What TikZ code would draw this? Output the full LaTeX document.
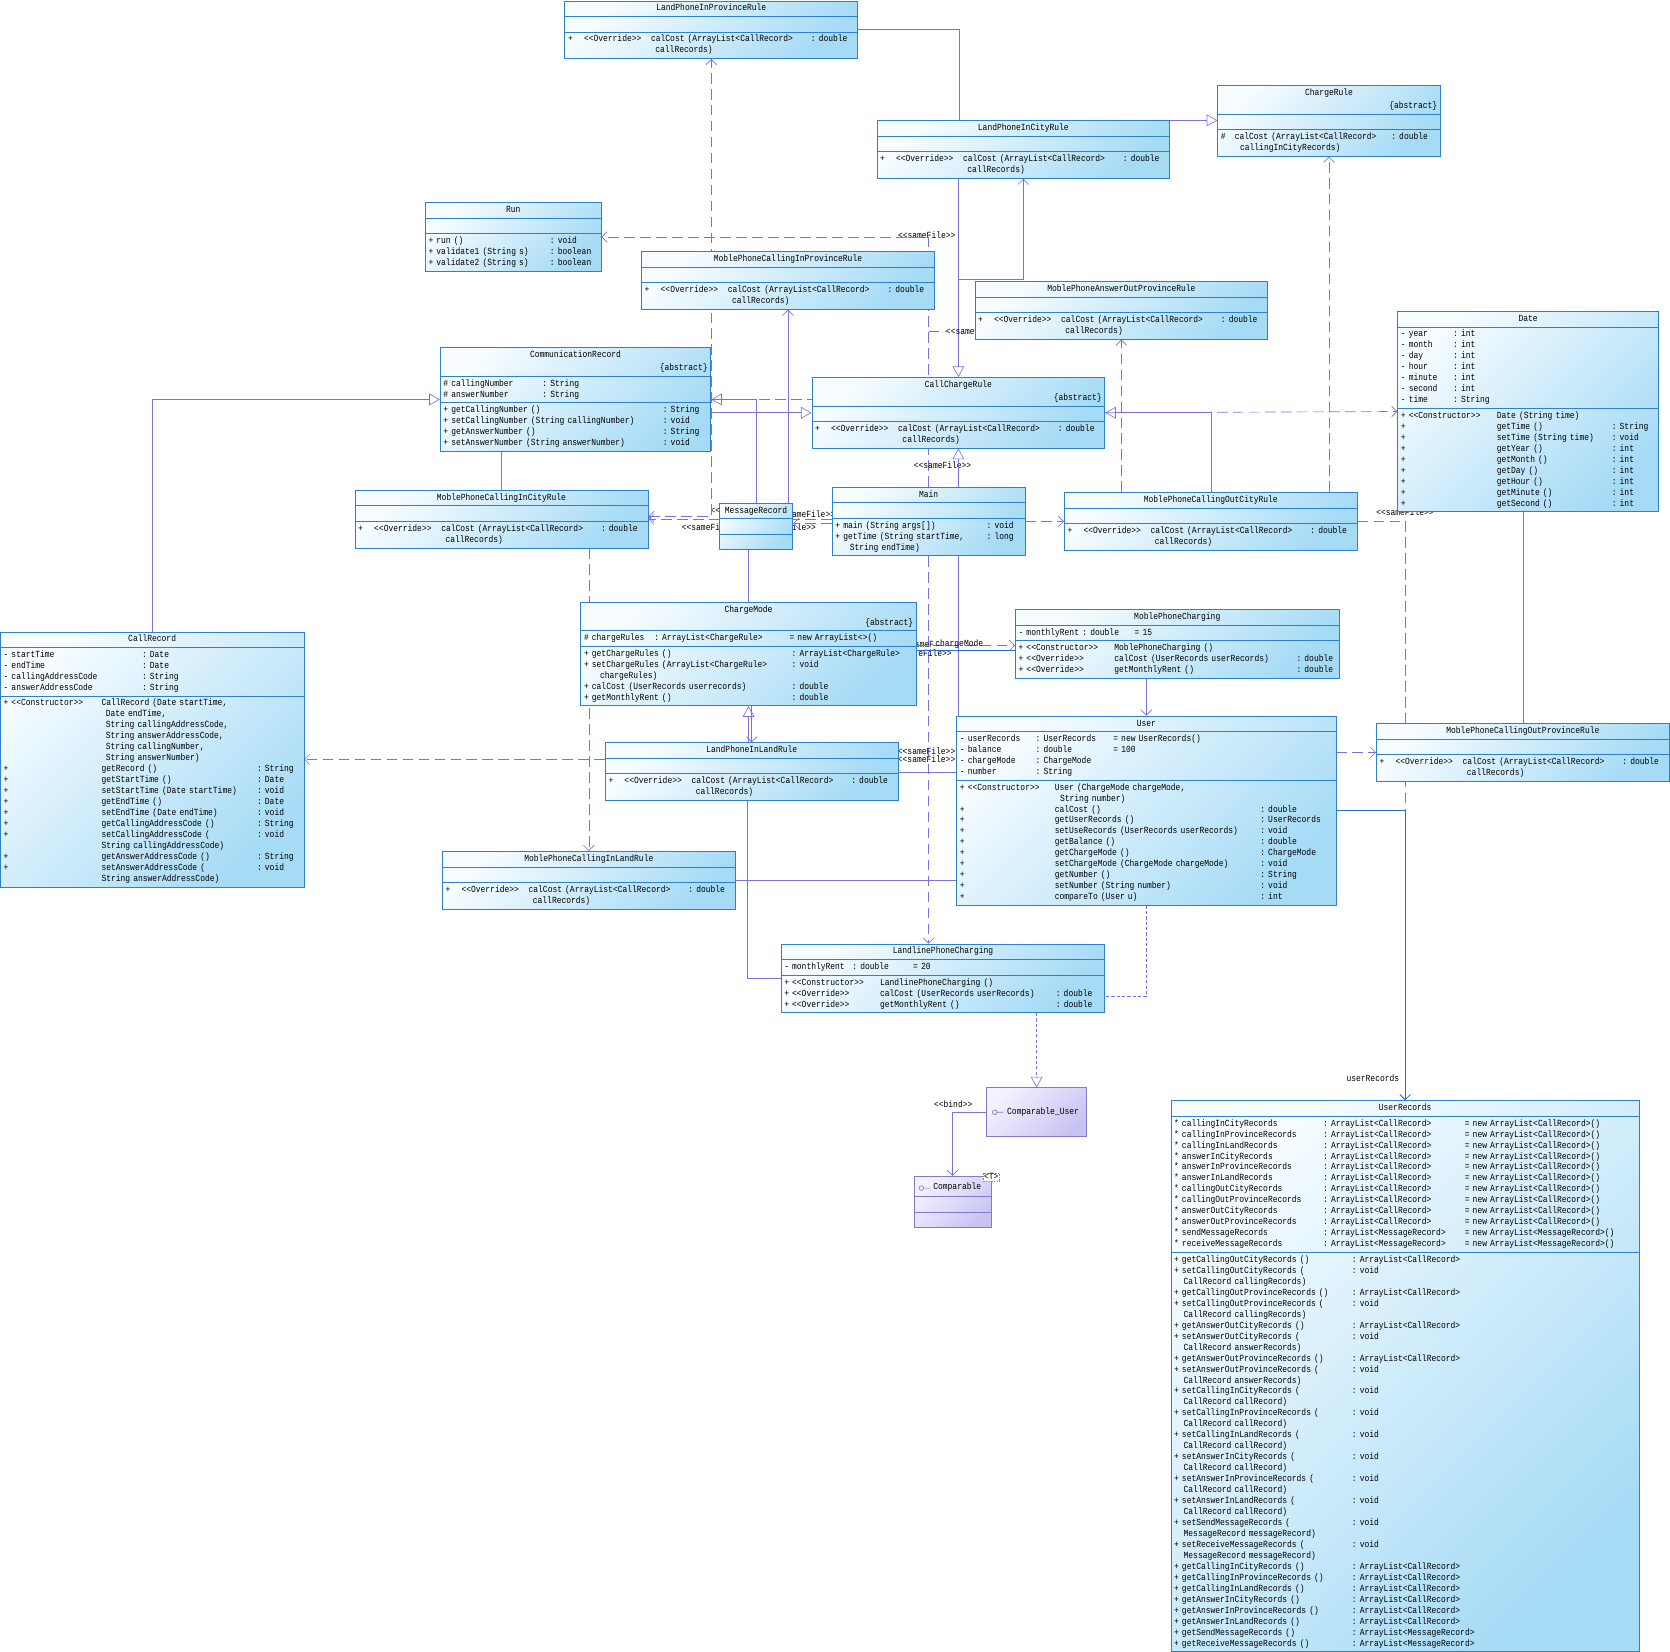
\documentclass[tikz,border=0pt]{standalone}
\usepackage{fontspec}
\setmonofont{Liberation Mono}[FakeStretch=0.85]
\usetikzlibrary{arrows.meta,calc,positioning,shapes.multipart}
\pgfdeclarelayer{links}
\pgfsetlayers{links,main}
\definecolor{clsline}{HTML}{2F7FD0}
\definecolor{clstop}{HTML}{F6FCFF}
\definecolor{clsbot}{HTML}{A6DBF6}
\definecolor{ifcline}{HTML}{7E7ACC}
\definecolor{ifctop}{HTML}{F4F2FF}
\definecolor{ifcbot}{HTML}{C9C3F2}
\definecolor{relline}{HTML}{7A70E0}
\definecolor{assocline}{HTML}{2A6FD0}
\frenchspacing

\newcommand{\umlsize}{\fontsize{8.8}{10.3}\selectfont}
\newcommand{\cl}[2]{\makebox[#1pt][l]{#2}}
\newcommand{\comp}[1]{\strut#1\strut}
\newcommand{\cname}[1]{\makebox[\linewidth]{#1}}
\newcommand{\abst}{\\[2pt]\hspace*{\fill}\{abstract\}}
\newcommand{\calcost}{\cl{15}{+}\cl{63}{<<Override>>}\cl{150}{calCost (ArrayList<CallRecord>}:~double\\\hspace*{82pt}callRecords)}
\newcommand{\rulebody}{\nodepart{two}\comp{}\nodepart{three}\comp{\calcost}}
% row helpers
\newcommand{\dop}[2]{\cl{90}{+}\cl{108}{#1}:~#2}
\newcommand{\crop}[2]{\cl{92}{+}\cl{146}{#1}:~#2}
\newcommand{\uop}[2]{\cl{89}{+}\cl{193}{#1}:~#2}
\newcommand{\urf}[3]{\cl{140}{* #1}\cl{133}{:~#2}=~#3}
\newcommand{\uro}[2]{\cl{167}{+ #1}:~#2}
\newcommand{\urc}[1]{\hspace*{9pt}#1}

\begin{document}
\begin{tikzpicture}[x=1pt, y=-1pt,
    umlclass/.style={rectangle split, rectangle split parts=3, draw=clsline,
        line width=0.7pt, top color=clstop, bottom color=clsbot, shading angle=45,
        inner xsep=3pt, inner ysep=1.8pt, anchor=north west, align=left,
        font=\umlsize\ttfamily},
    rulecls/.style={umlclass, text width=269pt},
    ifc/.style={draw=ifcline, line width=0.7pt, top color=ifctop, bottom color=ifcbot,
        shading angle=45, font=\umlsize\ttfamily},
    rel/.style={draw=relline, line width=0.6pt},
    inherit/.style={rel, -{Triangle[open, length=10pt, width=11pt]}},
    navig/.style={rel, -{Straight Barb[length=5pt, width=10pt]}},
    depend/.style={navig, dash pattern=on 10pt off 5pt},
    bidep/.style={rel, dash pattern=on 10pt off 5pt,
        {Straight Barb[length=5pt, width=10pt]}-{Straight Barb[length=5pt, width=10pt]}},
    finedash/.style={rel, dash pattern=on 3pt off 2pt},
    lbl/.style={font=\umlsize\ttfamily, inner sep=0pt, text=black}
]
\useasboundingbox (0,0) rectangle (1568,1551);

% ---- rule classes
\node[rulecls] (lpipr) at (530,0.5) {\comp{\cname{LandPhoneInProvinceRule}}\rulebody};
\node[rulecls] (lpicr) at (823,113) {\comp{\cname{LandPhoneInCityRule}}\rulebody};
\node[rulecls] (mpcipr) at (602,236) {\comp{\cname{MoblePhoneCallingInProvinceRule}}\rulebody};
\node[rulecls] (mpaopr) at (915,264) {\comp{\cname{MoblePhoneAnswerOutProvinceRule}}\rulebody};
\node[rulecls] (callCR) at (762,354) {\comp{\cname{CallChargeRule}\abst}\rulebody};
\node[rulecls] (mpcicr) at (333,460) {\comp{\cname{MoblePhoneCallingInCityRule}}\rulebody};
\node[rulecls] (mpcocr) at (999,462) {\comp{\cname{MoblePhoneCallingOutCityRule}}\rulebody};
\node[rulecls] (lpilr) at (568,697) {\comp{\cname{LandPhoneInLandRule}}\rulebody};
\node[rulecls] (mpcopr) at (1292,679) {\comp{\cname{MoblePhoneCallingOutProvinceRule}}\rulebody};
\node[rulecls] (mpcilr) at (415,799) {\comp{\cname{MoblePhoneCallingInLandRule}}\rulebody};

\node[umlclass, text width=203pt] (chargeRule) at (1143,80) {\comp{\cname{ChargeRule}\abst}
  \nodepart{two}\comp{}
  \nodepart{three}\comp{\cl{13}{\#}\cl{147}{calCost (ArrayList<CallRecord>}:~double\\\hspace*{18pt}callingInCityRecords)}};

\node[umlclass, text width=159pt] (run) at (399,190) {\comp{\cname{Run}}
  \nodepart{two}\comp{}
  \nodepart{three}\comp{\cl{114}{+ run ()}:~void\\\cl{114}{+ validate1 (String s)}:~boolean\\\cl{114}{+ validate2 (String s)}:~boolean}};

\node[umlclass, text width=239pt] (date) at (1312,292) {\comp{\cname{Date}}
  \nodepart{two}\comp{\cl{49}{- year}:~int\\\cl{49}{- month}:~int\\\cl{49}{- day}:~int\\\cl{49}{- hour}:~int\\\cl{49}{- minute}:~int\\\cl{49}{- second}:~int\\\cl{49}{- time}:~String}
  \nodepart{three}\comp{\cl{90}{+ <<Constructor>>}Date (String time)\\\dop{getTime ()}{String}\\\dop{setTime (String time)}{void}\\\dop{getYear ()}{int}\\\dop{getMonth ()}{int}\\\dop{getDay ()}{int}\\\dop{getHour ()}{int}\\\dop{getMinute ()}{int}\\\dop{getSecond ()}{int}}};

\node[umlclass, text width=248pt] (commRec) at (413,326) {\comp{\cname{CommunicationRecord}\abst}
  \nodepart{two}\comp{\cl{93}{\# callingNumber}:~String\\\cl{93}{\# answerNumber}:~String}
  \nodepart{three}\comp{\cl{206}{+ getCallingNumber ()}:~String\\\cl{206}{+ setCallingNumber (String callingNumber)}:~void\\\cl{206}{+ getAnswerNumber ()}:~String\\\cl{206}{+ setAnswerNumber (String answerNumber)}:~void}};

\node[umlclass, text width=63pt] (msgRec) at (675,472) {\comp{\cname{MessageRecord}}\nodepart{two}\comp{}\nodepart{three}\comp{}};

\node[umlclass, text width=175pt] (main) at (781,457) {\comp{\cname{Main}}
  \nodepart{two}\comp{}
  \nodepart{three}\comp{\cl{142}{+ main (String args[])}:~void\\\cl{142}{+ getTime (String startTime,}:~long\\\hspace*{13.5pt}String endTime)}};

\node[umlclass, text width=279pt] (callRec) at (0,593) {\comp{\cname{CallRecord}}
  \nodepart{two}\comp{\cl{130}{- startTime}:~Date\\\cl{130}{- endTime}:~Date\\\cl{130}{- callingAddressCode}:~String\\\cl{130}{- answerAddressCode}:~String}
  \nodepart{three}\comp{\cl{92}{+ <<Constructor>>}CallRecord (Date startTime,\\\hspace*{96pt}Date endTime,\\\hspace*{96pt}String callingAddressCode,\\\hspace*{96pt}String answerAddressCode,\\\hspace*{96pt}String callingNumber,\\\hspace*{96pt}String answerNumber)\\
  \crop{getRecord ()}{String}\\\crop{getStartTime ()}{Date}\\\crop{setStartTime (Date startTime)}{void}\\\crop{getEndTime ()}{Date}\\\crop{setEndTime (Date endTime)}{void}\\\crop{getCallingAddressCode ()}{String}\\\crop{setCallingAddressCode (}{void}\\\hspace*{92pt}String callingAddressCode)\\\crop{getAnswerAddressCode ()}{String}\\\crop{setAnswerAddressCode (}{void}\\\hspace*{92pt}String answerAddressCode)}};

\node[umlclass, text width=309pt] (chargeMode) at (545,565) {\comp{\cname{ChargeMode}\abst}
  \nodepart{two}\comp{\cl{66}{\# chargeRules}\cl{127}{:~ArrayList<ChargeRule>}=~new ArrayList<>()}
  \nodepart{three}\comp{\cl{195}{+ getChargeRules ()}:~ArrayList<ChargeRule>\\\cl{195}{+ setChargeRules (ArrayList<ChargeRule>}:~void\\\hspace*{15pt}chargeRules)\\\cl{195}{+ calCost (UserRecords userrecords)}:~double\\\cl{195}{+ getMonthlyRent ()}:~double}};

\node[umlclass, text width=298pt] (mpCharging) at (953,572) {\comp{\cname{MoblePhoneCharging}}
  \nodepart{two}\comp{\cl{60}{- monthlyRent}\cl{49}{:~double}=~15}
  \nodepart{three}\comp{\cl{90}{+ <<Constructor>>}MoblePhoneCharging ()\\\cl{90}{+ <<Override>>}\cl{171}{calCost (UserRecords userRecords)}:~double\\\cl{90}{+ <<Override>>}\cl{171}{getMonthlyRent ()}:~double}};

\node[umlclass, text width=298pt] (llCharging) at (733,886) {\comp{\cname{LandlinePhoneCharging}}
  \nodepart{two}\comp{\cl{64}{- monthlyRent}\cl{57}{:~double}=~20}
  \nodepart{three}\comp{\cl{90}{+ <<Constructor>>}LandlinePhoneCharging ()\\\cl{90}{+ <<Override>>}\cl{165}{calCost (UserRecords userRecords)}:~double\\\cl{90}{+ <<Override>>}\cl{165}{getMonthlyRent ()}:~double}};

\node[umlclass, text width=350pt] (user) at (898,672) {\comp{\cname{User}}
  \nodepart{two}\comp{\cl{71}{- userRecords}\cl{73}{:~UserRecords}=~new UserRecords()\\\cl{71}{- balance}\cl{73}{:~double}=~100\\\cl{71}{- chargeMode}:~ChargeMode\\\cl{71}{- number}:~String}
  \nodepart{three}\comp{\cl{89}{+ <<Constructor>>}User (ChargeMode chargeMode,\\\hspace*{94pt}String number)\\\uop{calCost ()}{double}\\\uop{getUserRecords ()}{UserRecords}\\\uop{setUseRecords (UserRecords userRecords)}{void}\\\uop{getBalance ()}{double}\\\uop{getChargeMode ()}{ChargeMode}\\\uop{setChargeMode (ChargeMode chargeMode)}{void}\\\uop{getNumber ()}{String}\\\uop{setNumber (String number)}{void}\\\uop{compareTo (User u)}{int}}};

\node[umlclass, text width=434pt] (userRecs) at (1099,1033) {\comp{\cname{UserRecords}}
  \nodepart{two}\comp{\urf{callingInCityRecords}{ArrayList<CallRecord>}{new ArrayList<CallRecord>()}\\
    \urf{callingInProvinceRecords}{ArrayList<CallRecord>}{new ArrayList<CallRecord>()}\\
    \urf{callingInLandRecords}{ArrayList<CallRecord>}{new ArrayList<CallRecord>()}\\
    \urf{answerInCityRecords}{ArrayList<CallRecord>}{new ArrayList<CallRecord>()}\\
    \urf{answerInProvinceRecords}{ArrayList<CallRecord>}{new ArrayList<CallRecord>()}\\
    \urf{answerInLandRecords}{ArrayList<CallRecord>}{new ArrayList<CallRecord>()}\\
    \urf{callingOutCityRecords}{ArrayList<CallRecord>}{new ArrayList<CallRecord>()}\\
    \urf{callingOutProvinceRecords}{ArrayList<CallRecord>}{new ArrayList<CallRecord>()}\\
    \urf{answerOutCityRecords}{ArrayList<CallRecord>}{new ArrayList<CallRecord>()}\\
    \urf{answerOutProvinceRecords}{ArrayList<CallRecord>}{new ArrayList<CallRecord>()}\\
    \urf{sendMessageRecords}{ArrayList<MessageRecord>}{new ArrayList<MessageRecord>()}\\
    \urf{receiveMessageRecords}{ArrayList<MessageRecord>}{new ArrayList<MessageRecord>()}}
  \nodepart{three}\comp{\uro{getCallingOutCityRecords ()}{ArrayList<CallRecord>}\\
    \uro{setCallingOutCityRecords (}{void}\\\urc{CallRecord callingRecords)}\\
    \uro{getCallingOutProvinceRecords ()}{ArrayList<CallRecord>}\\
    \uro{setCallingOutProvinceRecords (}{void}\\\urc{CallRecord callingRecords)}\\
    \uro{getAnswerOutCityRecords ()}{ArrayList<CallRecord>}\\
    \uro{setAnswerOutCityRecords (}{void}\\\urc{CallRecord answerRecords)}\\
    \uro{getAnswerOutProvinceRecords ()}{ArrayList<CallRecord>}\\
    \uro{setAnswerOutProvinceRecords (}{void}\\\urc{CallRecord answerRecords)}\\
    \uro{setCallingInCityRecords (}{void}\\\urc{CallRecord callRecord)}\\
    \uro{setCallingInProvinceRecords (}{void}\\\urc{CallRecord callRecord)}\\
    \uro{setCallingInLandRecords (}{void}\\\urc{CallRecord callRecord)}\\
    \uro{setAnswerInCityRecords (}{void}\\\urc{CallRecord callRecord)}\\
    \uro{setAnswerInProvinceRecords (}{void}\\\urc{CallRecord callRecord)}\\
    \uro{setAnswerInLandRecords (}{void}\\\urc{CallRecord callRecord)}\\
    \uro{setSendMessageRecords (}{void}\\\urc{MessageRecord messageRecord)}\\
    \uro{setReceiveMessageRecords (}{void}\\\urc{MessageRecord messageRecord)}\\
    \uro{getCallingInCityRecords ()}{ArrayList<CallRecord>}\\
    \uro{getCallingInProvinceRecords ()}{ArrayList<CallRecord>}\\
    \uro{getCallingInLandRecords ()}{ArrayList<CallRecord>}\\
    \uro{getAnswerInCityRecords ()}{ArrayList<CallRecord>}\\
    \uro{getAnswerInProvinceRecords ()}{ArrayList<CallRecord>}\\
    \uro{getAnswerInLandRecords ()}{ArrayList<CallRecord>}\\
    \uro{getSendMessageRecords ()}{ArrayList<MessageRecord>}\\
    \uro{getReceiveMessageRecords ()}{ArrayList<MessageRecord>}}};

% ---- interfaces
\node[ifc, anchor=north west, minimum width=94pt, minimum height=46pt, inner sep=0pt] (cmpUser) at (926,1021) {\hspace*{16pt}Comparable\_User\hspace*{4pt}};
\draw[ifcline, line width=0.6pt] ([xshift=8pt]cmpUser.west) circle[radius=2.2pt]
    ([xshift=10.2pt]cmpUser.west) -- ([xshift=16pt]cmpUser.west);
\node[ifc, rectangle split, rectangle split parts=3, anchor=north west, text width=66pt,
    inner xsep=3pt, inner ysep=1.8pt, align=left] (cmp) at (858,1104)
    {\rule[-4.5pt]{0pt}{15pt}\hspace*{15pt}Comparable\nodepart{two}\comp{}\nodepart{three}\comp{}};
\draw[ifcline, line width=0.6pt] ([xshift=7pt,yshift=-11.5pt]cmp.north west) circle[radius=2.2pt]
    ([xshift=9.2pt,yshift=-11.5pt]cmp.north west) -- ([xshift=15pt,yshift=-11.5pt]cmp.north west);
\node[lbl, draw=ifcline, dash pattern=on 1.5pt off 1pt, fill=white, inner sep=0.8pt] (cmpT)
    at ([yshift=-1pt]cmp.north east) {<T>};

% ---- relations
\begin{pgfonlayer}{links}
\coordinate (kCall) at (900,262);
\draw[rel] (lpipr.east) -| ([xshift=-60pt]lpicr.north);
\draw[inherit] (lpicr.north east) -- (lpicr.north east -| chargeRule.west);
\draw[inherit] (lpicr.south -| callCR.north) -- (callCR.north);
\draw[navig] (kCall) -| (lpicr.south);
% dependencies out of Main
\node[lbl, anchor=west] (sfRun) at (843,221) {<<sameFile>>};
\draw[depend] (main.north) |- (run.east);
\node[lbl, anchor=west] (sfAnsw) at (888,311) {<<sameFile>>};
\draw[rel, dash pattern=on 10pt off 5pt] (main.north |- sfAnsw.west) -- (sfAnsw.west);
\node[lbl] (sfMain) at (885,437) {<<sameFile>>};
\draw[depend] (main.south) -- (main.south |- llCharging.north);
\draw[rel] ([xshift=28pt]main.south) -- ([xshift=28pt]main.south |- user.north);
\node[lbl, anchor=west] (sfMsgA) at (730,483) {<<sameFile>>};
\node[lbl, anchor=west] (sfMsgB) at (712,495) {<<sameFile>>};
\node[lbl, anchor=west] (sfMsgC) at (640,495) {<<sameFile>>};
\node[lbl, anchor=west] (sfMsgD) at (667,480) {<<};
\draw[depend] ([yshift=-2pt]main.west) -- ([yshift=-2pt]main.west -| msgRec.east);
\draw[depend] ([yshift=2pt]main.west) -- ([yshift=2pt]main.west -| mpcicr.east);
\draw[depend] (main.east) -- (mpcocr.west |- main.east);
\node[lbl, anchor=west] (sfDate) at (1292,481) {<<sameFile>>};
\draw[rel, dash pattern=on 10pt off 5pt] (mpcocr.east |- 0,489) -| (userRecs.north);
% other links
\draw[bidep] (mpcicr.east |- 0,485) -| (lpipr.south);
\draw[navig] (msgRec.north -| mpcipr.south) -- (mpcipr.south);
\draw[depend] (mpcocr.north -| mpaopr.south) -- (mpaopr.south);
\draw[depend] (mpcocr.north -| chargeRule.south) -- (chargeRule.south);
\draw[inherit] (mpcocr.north) |- (callCR.east);
\draw[depend] (callCR.east) -- (date.west);
\draw[inherit] (msgRec.north) |- (commRec.east);
\draw[rel, dash pattern=on 10pt off 5pt] (commRec.east) -- (commRec.east -| callCR.west);
\draw[inherit] (commRec.east |- callCR.west) -- (callCR.west);
\draw[inherit] (callRec.north) |- (commRec.west);
\draw[rel] (mpcicr.north) -- (mpcicr.north |- commRec.south);
\draw[inherit] (main.north -| callCR.south) -- (callCR.south);
\draw[rel] (msgRec.south -| chargeMode.north) -- (chargeMode.north);
\draw[inherit] (lpilr.north -| chargeMode.south) -- (chargeMode.south);
\draw[navig] (chargeMode.south -| lpilr.north) -- (lpilr.north);
\node[lbl, anchor=east] (sfModeA) at (877,605) {<<sameF};
\node[lbl, anchor=west] (sfModeB) at (862,613) {eFile>>};
\draw[draw=assocline, line width=0.6pt] ([yshift=3pt]chargeMode.east) -- ([yshift=3pt]chargeMode.east -| mpCharging.west);
\draw[depend] ([yshift=8pt]chargeMode.east) -- ([yshift=8pt]chargeMode.east -| mpCharging.west);
\node[lbl, anchor=west] (lblMode) at (878,605) {chargeMode};
\draw[navig] (mpCharging.south -| user.north) -- (user.north);
\draw[depend] (lpilr.west |- callRec.east) -- (callRec.east);
\draw[rel] (lpilr.east |- 0,725) -- (user.west |- 0,725);
\node[lbl] (sfUserA) at (870,705) {<<sameFile>>};
\node[lbl] (sfUserB) at (870,713) {<<sameFile>>};
\draw[rel] (mpcilr.east) -- (mpcilr.east -| user.west);
\draw[depend] (mpcicr.south -| mpcilr.north) -- (mpcilr.north);
\draw[rel] (lpilr.south -| 702,0) |- (llCharging.west);
\draw[finedash] (user.south) |- ([yshift=-17pt]llCharging.east);
\draw[finedash, -{Triangle[open, length=10pt, width=11pt]}] (cmpUser.north |- llCharging.south) -- (cmpUser.north);
\draw[navig] (cmpUser.west) -| (cmp.north);
\node[lbl] (lblBind) at (895,1037) {<<bind>>};
\draw[draw=assocline, line width=0.7pt, -{Straight Barb[length=5pt, width=10pt]}] (user.east) -| (userRecs.north);
\node[lbl] (lblRecs) at (1289,1012) {userRecords};
\draw[depend] (mpcopr.west -| user.east) -- (mpcopr.west);
\draw[rel] (date.south -| mpcopr.north) -- (mpcopr.north);
\end{pgfonlayer}
\end{tikzpicture}
\end{document}
